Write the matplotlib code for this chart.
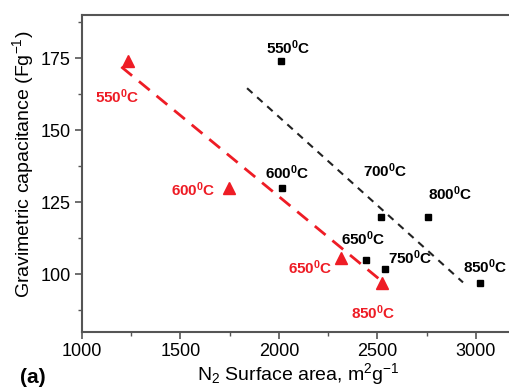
import matplotlib
matplotlib.use("Agg")
import matplotlib.pyplot as plt

plt.rcParams['font.family'] = ['Liberation Sans', 'DejaVu Sans']
plt.rcParams['mathtext.fontset'] = 'custom'
plt.rcParams['mathtext.rm'] = 'Liberation Sans'
plt.rcParams['mathtext.it'] = 'Liberation Sans'
plt.rcParams['mathtext.bf'] = 'Liberation Sans:bold'

# Red series (triangles)
red_x = [1235, 1745, 2315, 2522]
red_y = [174, 130, 105.5, 97]
red_labels = ["550", "600", "650", "850"]
red_fit_x = [1200, 2515]
red_fit_y = [172, 98]

# Black series (squares)
blk_x = [2010, 2015, 2442, 2518, 2538, 2756, 3020]
blk_y = [174, 130, 105, 120, 102, 120, 97]
blk_labels = ["550", "600", "650", "700", "750", "800", "850"]
blk_fit_x = [1838, 2934]
blk_fit_y = [164.6, 97.2]

RED = '#ee1c25'
GRAY = '#555555'

fig = plt.figure(figsize=(5.09, 3.91), dpi=100)
ax = fig.add_axes([0.161, 0.151, 1.0126 - 0.161, 0.9616 - 0.151])

ax.plot(red_fit_x, red_fit_y, color=RED, lw=2.0, dashes=(5, 3.2))
ax.plot(blk_fit_x, blk_fit_y, color='#222222', lw=1.5, dashes=(3.5, 3))
ax.plot(red_x, red_y, '^', color=RED, ms=9, mec=RED)
ax.plot(blk_x, blk_y, 's', color='black', ms=5)

def lab(t):
    return t + r"$^{\mathbf{0}}$C"

red_pos = [(1178, 161.5), (1563, 129.2), (2157, 102.4), (2477, 86.8)]
for t, (x, y) in zip(red_labels, red_pos):
    ax.text(x, y, lab(t), color=RED, fontsize=11, fontweight='bold', ha='center', va='center')

blk_pos = [(2046, 178.5), (2041, 135.4), (2426, 112.2), (2538, 136), (2665, 105.6), (2868, 128), (3046, 102.8)]
for t, (x, y) in zip(blk_labels, blk_pos):
    ax.text(x, y, lab(t), color='black', fontsize=11, fontweight='bold', ha='center', va='center')

ax.set_xlim(1000, 3200)
ax.set_ylim(80, 190)
ax.set_xticks([1000, 1500, 2000, 2500, 3000])
ax.set_yticks([100, 125, 150, 175])
ax.set_xticks([1250, 1750, 2250, 2750], minor=True)
ax.set_yticks([87.5, 112.5, 137.5, 162.5, 187.5], minor=True)
ax.tick_params(which='major', direction='out', length=5, width=1.2, color=GRAY, labelsize=13, pad=3)
ax.tick_params(which='minor', direction='out', length=3, width=1.0, color=GRAY)
for s in ax.spines.values():
    s.set_color(GRAY)
    s.set_linewidth(1.5)

ax.set_xlabel(r"N$_2$ Surface area, m$^2$g$^{-1}$", fontsize=14, labelpad=1)
ax.set_ylabel(r"Gravimetric capacitance (Fg$^{-1}$)", fontsize=14, labelpad=3)
ax.yaxis.set_label_coords(-0.105, 0.53)
fig.text(0.039, 0.035, "(a)", fontsize=15, fontweight='bold', ha='left', va='center')

fig.savefig("out.png", dpi=100)
